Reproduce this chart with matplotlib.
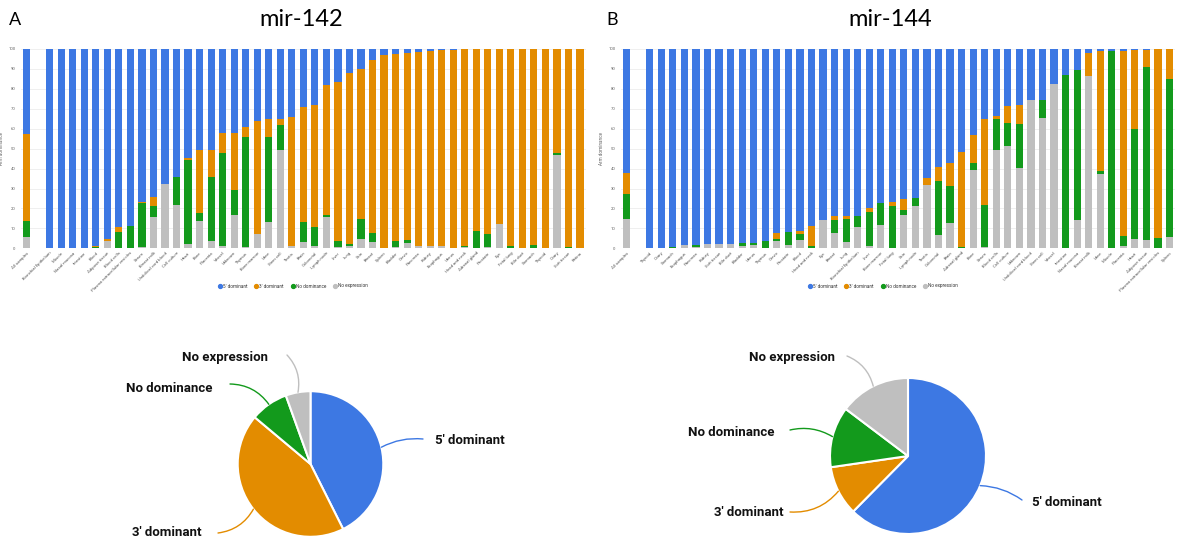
import numpy as np
import matplotlib.pyplot as plt
from matplotlib.lines import Line2D

plt.rcParams['font.family'] = ['Roboto', 'DejaVu Sans']

W, H = 1178, 539

C_BLUE = '#3d78e3'
C_ORANGE = '#e38c00'
C_GREEN = '#139a1c'
C_GREY = '#bfbfbf'

series_names = ["5' dominant", "3' dominant", "No dominance", "No expression"]

# ---- mir-142 per-tissue arm dominance (%) ----
labels_142 = ['All samples', '', 'Bronchial Epithelium', 'Muscle', 'Nasal mucosa', 'Intestine',
              'Blood', 'Adipose tissue', 'Blood cells', 'Plasma extracellular vesicles', 'Serum',
              'Breast milk', 'Umbilical cord blood', 'Cell culture', 'Heart', 'Bone', 'Placenta',
              'Vessel', 'Unknown', 'Thymus', 'Bone marrow', 'Urine', 'Stem cell', 'Testis',
              'Brain', 'Colorectal', 'Lymph node', 'Liver', 'Lung', 'Skin', 'Breast', 'Spleen',
              'Bladder', 'Cervix', 'Pancreas', 'Kidney', 'Esophagus', 'Uterus', 'Head and neck',
              'Adrenal gland', 'Prostate', 'Eye', 'Fetal lung', 'Bile duct', 'Stomach', 'Thyroid',
              'Ovary', 'Soft tissue', 'Retina']
noexp_142 = [5.5, 0, 0, 0, 0, 0, 0.3, 3.7, 0.3, 0.2, 0.8, 15.9, 32.3, 21.6, 2.2, 13.7, 3.8, 1.3,
             16.6, 0.5, 7.0, 13.0, 49.3, 1.0, 3.3, 1.2, 15.6, 0.8, 1.2, 4.7, 3.3, 0, 0.8, 2.8,
             1.2, 1.2, 1.2, 0, 0.5, 0.3, 0.8, 12.2, 0, 0, 0.3, 0, 46.7, 0, 0]
nodom_142 = [8.4, 0, 0, 0, 0, 0, 0.5, 0, 8.1, 10.8, 21.8, 5.5, 0, 14.0, 42.1, 3.9, 31.8, 46.7,
             12.5, 55.5, 0, 42.9, 12.4, 0, 10.1, 9.7, 1.3, 2.7, 0.8, 10.0, 4.6, 0, 3.0, 1.2,
             0, 0, 0, 0, 0.5, 8.6, 6.4, 0, 1.3, 0, 1.5, 0, 1.3, 0.8, 0]
three_142 = [43.5, 0, 0, 0, 0, 0, 0.4, 0.9, 2.1, 0, 0.6, 4.4, 0, 0, 0.9, 31.6, 13.6, 9.7,
             28.8, 5.0, 56.9, 8.8, 3.3, 64.7, 57.3, 60.8, 65.0, 79.8, 86.0, 75.1, 86.6, 97.0,
             93.5, 94.2, 97.5, 97.8, 98.3, 99.7, 99.0, 91.1, 92.8, 87.8, 98.7, 100, 98.2, 100,
             52.0, 99.2, 100]
five_142 = [42.6, 0, 100, 100, 100, 100, 98.8, 95.4, 89.5, 89.0, 76.8, 74.2, 67.7, 64.4, 54.8,
            50.8, 50.8, 42.3, 42.1, 39.0, 36.1, 35.3, 35.0, 34.3, 29.3, 28.3, 18.1, 16.7, 12.0,
            10.2, 5.5, 3.0, 2.7, 1.8, 1.3, 1.0, 0.5, 0.3, 0, 0, 0, 0, 0, 0, 0, 0, 0, 0, 0]

# ---- mir-144 per-tissue arm dominance (%) ----
labels_144 = ['All samples', '', 'Thyroid', 'Ovary', 'Stomach', 'Esophagus', 'Pancreas',
              'Kidney', 'Soft tissue', 'Bile duct', 'Bladder', 'Uterus', 'Thymus', 'Cervix',
              'Prostate', 'Blood', 'Head and neck', 'Eye', 'Breast', 'Lung',
              'Bronchial Epithelium', 'Liver', 'Bone marrow', 'Fetal lung', 'Skin',
              'Lymph node', 'Testis', 'Colorectal', 'Brain', 'Adrenal gland', 'Bone', 'Serum',
              'Blood cells', 'Cell culture', 'Unknown', 'Umbilical cord blood', 'Stem cell',
              'Vessel', 'Intestine', 'Nasal mucosa', 'Breast milk', 'Urine', 'Muscle',
              'Placenta', 'Heart', 'Adipose tissue', 'Plasma extracellular vesicles', 'Spleen']
noexp_144 = [14.7, 0, 0, 0, 0.3, 1.7, 0.8, 2.0, 2.2, 2.2, 1.0, 1.8, 0, 3.7, 1.7, 4.2, 0.3,
             14.2, 7.9, 3.3, 10.5, 1.3, 11.5, 0, 16.7, 21.2, 31.6, 6.5, 12.5, 0, 39.3, 0.5,
             49.3, 51.2, 40.1, 74.2, 65.2, 82.4, 0, 14.2, 86.3, 37.3, 0, 1.0, 4.5, 4.0, 0, 5.7]
nodom_144 = [12.6, 0, 0, 0, 0.5, 0, 0.9, 0, 0, 0, 1.5, 0.7, 3.5, 1.0, 6.3, 2.8, 1.0, 0,
             6.1, 11.6, 5.7, 17.1, 11.1, 21.4, 2.7, 4.1, 0, 27.4, 18.9, 0.8, 3.7, 21.4, 15.7,
             11.5, 22.4, 0, 9.2, 0, 86.8, 75.1, 0, 1.7, 98.8, 5.4, 55.2, 86.8, 5.0, 79.1]
three_144 = [10.3, 0, 0, 0, 0, 0, 0, 0, 0, 0, 0, 0, 0, 3.0, 0.2, 1.5, 9.9, 0, 2.2, 1.3, 0,
             1.8, 0, 1.7, 5.3, 0, 3.7, 7.1, 11.6, 47.4, 13.7, 42.8, 1.6, 8.5, 9.2, 0, 0, 0, 0,
             0, 11.5, 59.8, 0, 92.6, 39.6, 8.7, 95.0, 15.2]
five_144 = [62.4, 0, 100, 100, 99.2, 98.3, 98.3, 98.0, 97.8, 97.8, 97.5, 97.5, 96.5, 92.3,
            91.8, 91.5, 88.8, 85.8, 83.8, 83.8, 83.8, 79.8, 77.4, 76.9, 75.3, 74.7, 64.7, 59.0,
            57.0, 51.8, 43.3, 35.3, 33.4, 28.8, 28.3, 25.8, 25.6, 17.6, 13.2, 10.7, 2.2, 1.2,
            1.2, 1.0, 0.7, 0.5, 0, 0]

# pie values = "All samples" bar, order: 5', 3', no dominance, no expression
pie_142 = [five_142[0], three_142[0], nodom_142[0], noexp_142[0]]
pie_144 = [five_144[0], three_144[0], nodom_144[0], noexp_144[0]]

fig = plt.figure(figsize=(W / 100, H / 100), dpi=100)


def bar_panel(rect, labels, noexp, nodom, three, five, xmax):
    ax = fig.add_axes(rect)
    x = np.arange(len(labels))
    bottom = np.zeros(len(labels))
    for vals, col in [(noexp, C_GREY), (nodom, C_GREEN), (three, C_ORANGE), (five, C_BLUE)]:
        ax.bar(x, vals, width=0.62, bottom=bottom, color=col, linewidth=0, zorder=2)
        bottom += np.array(vals)
    ax.set_xlim(-0.5, xmax)
    ax.set_ylim(0, 100)
    ax.set_yticks(np.arange(0, 101, 10))
    ax.yaxis.grid(True, color='#ececec', lw=0.6, zorder=0)
    ax.set_xticks(x)
    ax.set_xticklabels(labels, rotation=45, ha='right', rotation_mode='anchor',
                       fontsize=3.1, color='#555555')
    ax.tick_params(axis='both', length=0, pad=2)
    ax.tick_params(axis='y', labelsize=3.1, labelcolor='#666666', pad=4)
    for s in ax.spines.values():
        s.set_visible(False)
    ax.set_ylabel('Arm dominance', fontsize=3.3, color='#666666', labelpad=3)
    return ax


bar_panel([20.9 / W, 1 - 248.3 / H, 564.9 / W, 199.3 / H],
          labels_142, noexp_142, nodom_142, three_142, five_142, 48.5)
bar_panel([620.9 / W, 1 - 248.3 / H, 554.4 / W, 199.3 / H],
          labels_144, noexp_144, nodom_144, three_144, five_144, 47.5)

handles = [Line2D([], [], marker='o', ls='', color=c, markersize=2.8)
           for c in [C_BLUE, C_ORANGE, C_GREEN, C_GREY]]
for cx in [293, 883]:
    fig.legend(handles, series_names, loc='center', bbox_to_anchor=(cx / W, 1 - 286 / H),
               ncol=4, frameon=False, fontsize=3.3, handletextpad=0.2, columnspacing=1.6,
               handlelength=0.8, labelcolor='#333333')

# titles
fig.text(15 / W, 1 - 20 / H, 'A', fontsize=13, family='Lato', ha='center', va='center')
fig.text(301 / W, 1 - 20 / H, 'mir-142', fontsize=17, family='Lato', ha='center', va='center')
fig.text(612 / W, 1 - 20 / H, 'B', fontsize=13, family='Lato', ha='center', va='center')
fig.text(890 / W, 1 - 20 / H, 'mir-144', fontsize=17, family='Lato', ha='center', va='center')

# pies in a pixel-unit overlay
axp = fig.add_axes([0, 0, 1, 1])
pie_cols = [C_BLUE, C_ORANGE, C_GREEN, C_GREY]


def pie_panel(vals, cx, cy, r, label_pos, line_ends, rads):
    cyd = H - cy
    axp.pie(vals, colors=pie_cols, startangle=90, counterclock=False, center=(cx, cyd),
            radius=r, frame=True, wedgeprops=dict(edgecolor='white', linewidth=1.5))
    total = float(sum(vals))
    cum = np.cumsum(vals)
    for i, v in enumerate(vals):
        th = np.deg2rad(360 * (cum[i] - v / 2) / total)
        edge = (cx + r * np.sin(th), cyd + r * np.cos(th))
        ex, ey = line_ends[i]
        axp.annotate('', xy=edge, xytext=(ex, H - ey),
                     arrowprops=dict(arrowstyle='-', color=pie_cols[i], lw=1,
                                     shrinkA=0, shrinkB=0,
                                     connectionstyle='arc3,rad=%s' % rads[i]))
        tx, ty, ha = label_pos[i]
        axp.text(tx, H - ty, series_names[i], fontsize=9.5, fontweight='bold',
                 ha=ha, va='center', color='#111111')


pie_panel(pie_142, 310.5, 464, 72.8,
          [(435, 441, 'left'), (202, 533, 'right'), (213, 388, 'right'), (268, 358, 'right')],
          [(423, 439), (218, 533), (230, 384), (287, 355)],
          [0.15, 0.25, -0.25, -0.25])
pie_panel(pie_144, 908, 456, 78,
          [(1032, 503, 'left'), (784, 512, 'right'), (775, 432, 'right'), (835, 357, 'right')],
          [(1022, 500), (790, 512), (790, 430), (847, 356)],
          [0.15, 0.25, -0.2, -0.25])

axp.set_xlim(0, W)
axp.set_ylim(0, H)
axp.axis('off')

fig.savefig('out.png', dpi=100)
